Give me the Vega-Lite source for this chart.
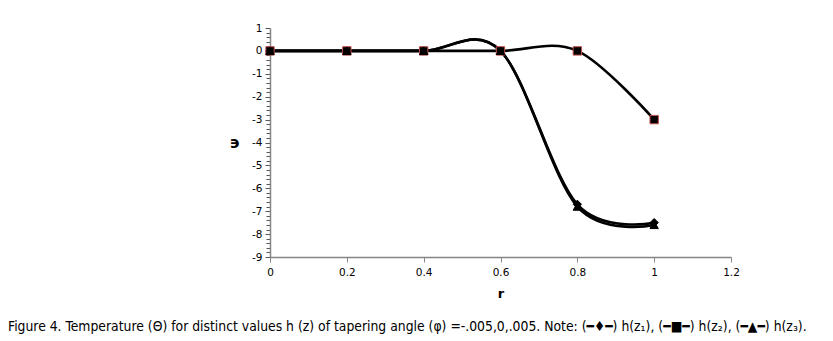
{
  "$schema": "https://vega.github.io/schema/vega-lite/v6.json",
  "autosize": "none",
  "width": 461,
  "height": 229,
  "padding": {"left": 270, "top": 28, "right": 102, "bottom": 84},
  "background": "white",
  "config": {"view": {"stroke": null}},
  "title": {
    "text": "Figure 4. Temperature (Θ) for distinct values h (z) of tapering angle (φ) =-.005,0,.005. Note: (━♦━) h(z₁), (━■━) h(z₂), (━▲━) h(z₃).",
    "orient": "bottom",
    "anchor": "start",
    "frame": "group",
    "dx": -262,
    "offset": 19,
    "font": "DejaVu Sans Condensed, Roboto, sans-serif",
    "fontSize": 13.8,
    "fontWeight": "normal",
    "color": "black"
  },
  "data": {
    "values": [
      {"r": 0, "h": 0, "series": "h(z1)"},
      {"r": 0.2, "h": 0, "series": "h(z1)"},
      {"r": 0.4, "h": 0, "series": "h(z1)"},
      {"r": 0.6, "h": 0, "series": "h(z1)"},
      {"r": 0.8, "h": -6.7, "series": "h(z1)"},
      {"r": 1, "h": -7.5, "series": "h(z1)"},
      {"r": 0, "h": 0, "series": "h(z2)"},
      {"r": 0.2, "h": 0, "series": "h(z2)"},
      {"r": 0.4, "h": 0, "series": "h(z2)"},
      {"r": 0.6, "h": 0, "series": "h(z2)"},
      {"r": 0.8, "h": 0, "series": "h(z2)"},
      {"r": 1, "h": -3, "series": "h(z2)"},
      {"r": 0, "h": 0, "series": "h(z3)"},
      {"r": 0.2, "h": 0, "series": "h(z3)"},
      {"r": 0.4, "h": 0, "series": "h(z3)"},
      {"r": 0.6, "h": 0, "series": "h(z3)"},
      {"r": 0.8, "h": -6.8, "series": "h(z3)"},
      {"r": 1, "h": -7.6, "series": "h(z3)"}
    ]
  },
  "encoding": {
    "x": {
      "field": "r",
      "type": "quantitative",
      "scale": {"domain": [0, 1.2], "nice": false, "zero": false},
      "axis": {
        "values": [0, 0.2, 0.4, 0.6, 0.8, 1, 1.2],
        "labelExpr": "'' + round(datum.value * 10) / 10",
        "grid": false,
        "title": "r",
        "titleFont": "DejaVu Sans",
        "titleFontSize": 13,
        "titleFontWeight": "bold",
        "titleColor": "black",
        "titlePadding": 10,
        "labelFont": "DejaVu Sans",
        "labelFontSize": 10.5,
        "labelColor": "black",
        "labelPadding": 5,
        "labelFlush": false,
        "domainColor": "#868686",
        "domainWidth": 1.5,
        "tickColor": "#868686",
        "tickSize": 5,
        "tickWidth": 1
      }
    },
    "y": {
      "field": "h",
      "type": "quantitative",
      "scale": {"domain": [-9, 1], "nice": false, "zero": false},
      "axis": {
        "values": [1, 0.8, 0.6, 0.4, 0.2, 0, -0.2, -0.4, -0.6, -0.8, -1, -1.2, -1.4, -1.6, -1.8, -2, -2.2, -2.4, -2.6, -2.8, -3, -3.2, -3.4, -3.6, -3.8, -4, -4.2, -4.4, -4.6, -4.8, -5, -5.2, -5.4, -5.6, -5.8, -6, -6.2, -6.4, -6.6, -6.8, -7, -7.2, -7.4, -7.6, -7.8, -8, -8.2, -8.4, -8.6, -8.8, -9],
        "labelExpr": "abs(datum.value - round(datum.value)) < 0.001 ? '' + round(datum.value) : ''",
        "grid": false,
        "title": "϶",
        "titleAngle": 0,
        "titleAlign": "right",
        "titleBaseline": "middle",
        "titleFont": "DejaVu Sans",
        "titleFontSize": 16,
        "titleFontWeight": "bold",
        "titleColor": "black",
        "titlePadding": 12,
        "labelFont": "DejaVu Sans",
        "labelFontSize": 10.5,
        "labelColor": "black",
        "labelPadding": 3,
        "labelFlush": false,
        "labelOverlap": false,
        "domainColor": "#868686",
        "domainWidth": 1.5,
        "tickColor": "#555555",
        "tickSize": {"condition": {"test": "abs(datum.value - round(datum.value)) < 0.001", "value": 5}, "value": 4},
        "tickWidth": 1
      }
    }
  },
  "layer": [
    {
      "mark": {"type": "line", "interpolate": "cardinal", "strokeWidth": 2.6, "color": "black"},
      "encoding": {"detail": {"field": "series"}}
    },
    {
      "mark": {"type": "point", "filled": true, "size": 70, "opacity": 1, "strokeWidth": 1},
      "encoding": {
        "shape": {"field": "series", "scale": {"domain": ["h(z1)", "h(z2)", "h(z3)"], "range": ["diamond", "square", "triangle-up"]}, "legend": null},
        "fill": {"value": "black"},
        "stroke": {"field": "series", "scale": {"domain": ["h(z1)", "h(z2)", "h(z3)"], "range": ["black", "#c0504d", "black"]}, "legend": null}
      }
    }
  ]
}
